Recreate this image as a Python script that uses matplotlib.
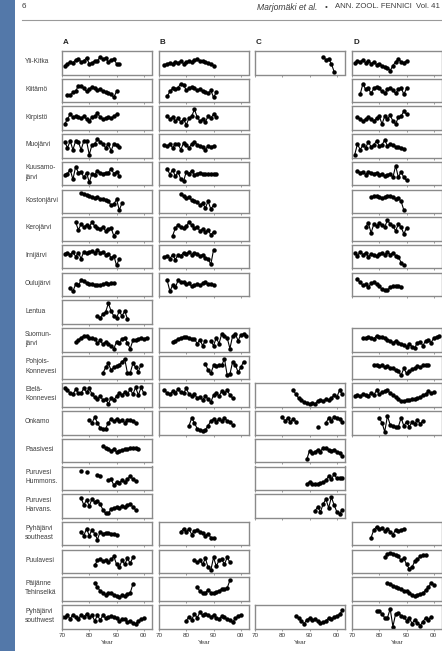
import numpy as np
import matplotlib.pyplot as plt
from matplotlib.patches import Rectangle
from matplotlib.lines import Line2D

plt.rcParams['font.family'] = ['Liberation Sans', 'DejaVu Sans']

nan = np.nan

# lake rows, top to bottom
lakes = ['Yli-Kitka', 'Kiitämö', 'Kirpistö', 'Muojärvi', 'Kuusamo-\njärvi',
         'Kostonjärvi', 'Kerojärvi', 'Irnijärvi', 'Oulujärvi', 'Lentua',
         'Suomun-\njärvi', 'Pohjois-\nKonnevesi', 'Etelä-\nKonnevesi', 'Onkamo',
         'Paasivesi', 'Puruvesi\nHummons.', 'Puruvesi\nHarvans.',
         'Pyhäjärvi\nsoutheast', 'Puulavesi', 'Päijänne\nTehinselkä',
         'Pyhäjärvi\nsouthwest']

col_names = ['A', 'B', 'C', 'D']

# (first year, yearly relative values)
col_A = {
    'Yli-Kitka': (71, [0.35,0.45,0.55,0.5,0.65,0.7,0.55,0.6,0.75,0.45,0.5,0.6,0.6,0.8,0.7,0.75,0.55,0.65,0.7,0.45,0.45]),
    'Kiitämö': (72, [0.25,0.25,0.4,0.45,0.75,0.75,0.6,0.45,0.55,0.7,0.6,0.5,0.55,0.45,0.4,0.35,0.3,0.15,0.45]),
    'Kirpistö': (71, [0.2,0.45,0.7,0.55,0.6,0.55,0.5,0.6,0.45,0.35,0.55,0.6,0.75,0.55,0.45,0.5,0.55,0.5,0.6,0.7]),
    'Muojärvi': (71, [0.7,0.4,0.75,0.3,0.75,0.7,0.3,0.75,0.75,0.05,0.55,0.6,0.85,0.7,0.6,0.4,0.6,0.25,0.6,0.55,0.45]),
    'Kuusamo-\njärvi': (71, [0.45,0.5,0.7,0.2,0.85,0.55,0.6,0.3,0.55,0.05,0.5,0.45,0.65,0.55,0.5,0.55,0.55,0.75,0.5,0.6,0.4]),
    'Kostonjärvi': (77, [0.9,0.85,0.8,0.75,0.7,0.65,0.7,0.6,0.6,0.55,0.5,0.3,0.35,0.6,0.05,0.4]),
    'Kerojärvi': (75, [0.85,0.45,0.75,0.6,0.7,0.6,0.85,0.65,0.55,0.5,0.6,0.4,0.5,0.55,0.15,0.35]),
    'Irnijärvi': (71, [0.65,0.7,0.6,0.75,0.5,0.7,0.4,0.75,0.7,0.75,0.8,0.7,0.85,0.7,0.75,0.6,0.65,0.45,0.55,0.05,0.4]),
    'Oulujärvi': (73, [0.3,0.15,0.5,0.45,0.7,0.65,0.55,0.5,0.5,0.45,0.45,0.45,0.5,0.55,0.5,0.55,0.55]),
    'Lentua': (83, [0.3,0.2,0.4,0.5,0.95,0.55,0.3,0.2,0.55,0.3,0.55,0.15]),
    'Suomun-\njärvi': (75, [0.4,0.47,0.61,0.69,0.71,0.61,0.61,0.54,0.33,0.47,0.26,0.4,0.26,0.19,0.04,0.4,0.33,0.54,0.61,0.33,0.04,0.47,0.47,0.54,0.61,0.54,0.61]),
    'Pohjois-\nKonnevesi': (85, [0.21,0.5,0.71,0.36,0.5,0.57,0.64,0.79,0.93,0.21,0.21,0.71,0.5,0.29,0.64]),
    'Etelä-\nKonnevesi': (71, [0.85,0.75,0.6,0.55,0.8,0.6,0.6,0.85,0.65,0.85,0.55,0.4,0.3,0.45,0.25,0.3,0.05,0.35,0.25,0.45,0.6,0.5,0.65,0.55,0.8,0.55,0.9,0.5,0.9,0.6]),
    'Onkamo': (80, [0.64,0.5,0.79,0.5,0.24,0.21,0.21,0.5,0.71,0.57,0.71,0.57,0.67,0.5,0.67,0.64,0.57,0.5]),
    'Paasivesi': (85, [0.71,0.64,0.6,0.5,0.57,0.43,0.5,0.53,0.57,0.6,0.61,0.61,0.61,0.57]),
    'Puruvesi\nHummons.': (77, [0.85,nan,0.8,nan,nan,nan,0.67,0.64,nan,nan,0.4,0.45,0.15,0.3,0.25,0.4,0.3,0.45,0.6,0.45,0.35]),
    'Puruvesi\nHarvans.': (77, [0.9,0.55,0.8,0.5,0.85,0.7,0.75,0.6,0.3,0.12,0.12,0.35,0.4,0.45,0.4,0.5,0.45,0.55,0.6,0.45,0.3]),
    'Pyhäjärvi\nsoutheast': (77, [0.6,0.4,0.75,0.4,0.7,0.5,0.2,0.6,0.5,0.55,0.55,0.5,0.5,0.45]),
    'Puulavesi': (82, [0.3,0.55,0.6,0.5,0.55,0.45,0.6,0.75,0.35,0.2,0.55,0.35,0.65,0.4,0.7]),
    'Päijänne\nTehinselkä': (82, [0.8,0.6,0.4,0.3,0.22,0.3,0.28,0.22,0.15,0.08,0.18,0.15,0.25,0.3,0.75]),
    'Pyhäjärvi\nsouthwest': (70, [0.5,0.47,0.57,0.39,0.61,0.5,0.39,0.57,0.5,0.64,0.47,0.57,0.29,0.57,0.33,0.57,0.43,0.47,0.53,0.47,0.43,0.29,0.36,0.39,0.21,0.29,0.17,0.14,0.29,0.36,0.43]),
}

col_B = {
    'Yli-Kitka': (72, [0.4,0.45,0.5,0.45,0.55,0.5,0.6,0.45,0.55,0.6,0.55,0.65,0.7,0.6,0.6,0.55,0.5,0.45,0.35]),
    'Kiitämö': (73, [0.2,0.45,0.6,0.55,0.65,0.85,0.8,0.5,0.6,0.7,0.6,0.5,0.55,0.45,0.4,0.35,0.5,0.15,0.4]),
    'Kirpistö': (73, [0.6,0.45,0.55,0.35,0.5,0.3,0.45,0.15,0.5,0.6,0.95,0.55,0.35,0.45,0.3,0.6,0.5,0.7,0.55]),
    'Muojärvi': (72, [0.55,0.5,0.6,0.4,0.6,0.6,0.3,0.65,0.55,0.4,0.6,0.7,0.55,0.5,0.45,0.3,0.5,0.45,0.5]),
    'Kuusamo-\njärvi': (73, [0.75,0.45,0.7,0.35,0.6,0.2,0.1,0.6,0.5,0.65,0.45,0.5,0.55,0.5,0.5,0.5,0.5,0.5,0.5]),
    'Kostonjärvi': (78, [0.85,0.75,0.65,0.7,0.55,0.5,0.45,0.3,0.4,0.15,0.5,0.1,0.3]),
    'Kerojärvi': (75, [0.15,0.55,0.7,0.6,0.55,0.65,0.85,0.7,0.55,0.6,0.4,0.5,0.35,0.45,0.2,0.35]),
    'Irnijärvi': (72, [0.5,0.55,0.4,0.6,0.35,0.6,0.55,0.7,0.65,0.75,0.6,0.7,0.65,0.55,0.6,0.45,0.4,0.1,0.85]),
    'Oulujärvi': (73, [0.7,0.15,0.45,0.35,0.7,0.6,0.6,0.5,0.55,0.4,0.45,0.5,0.45,0.55,0.6,0.5,0.5,0.45]),
    'Suomun-\njärvi': (75, [0.4,0.45,0.55,0.6,0.65,0.65,0.6,0.55,0.55,0.3,0.5,0.2,0.45,nan,0.45,0.2,0.6,0.3,0.8,0.7,0.6,0.05,0.7,0.8,0.45,0.75,0.8,0.7]),
    'Pohjois-\nKonnevesi': (87, [0.7,0.35,0.2,0.6,0.55,0.65,0.6,0.95,0.1,0.15,0.8,0.65,0.25,0.5,0.8]),
    'Etelä-\nKonnevesi': (72, [0.75,0.6,0.55,0.7,0.6,0.8,0.65,0.6,0.85,0.55,0.45,0.55,0.35,0.4,0.25,0.45,0.3,0.15,0.5,0.6,0.45,0.7,0.6,0.75,0.5,0.35]),
    'Onkamo': (81, [0.35,0.75,0.5,0.2,0.15,0.1,0.15,0.35,0.6,0.7,0.55,0.7,0.6,0.75,0.6,0.55,0.4]),
    'Pyhäjärvi\nsoutheast': (78, [0.6,0.75,0.6,0.75,0.45,0.65,0.7,0.6,0.55,0.4,0.5,0.3,0.3]),
    'Puulavesi': (83, [0.55,0.45,0.55,0.35,0.65,0.2,0.05,0.7,0.25,0.55,0.6,0.35,0.7,0.45]),
    'Päijänne\nTehinselkä': (84, [0.6,0.38,0.28,0.32,0.45,0.32,0.28,0.36,0.42,0.48,0.5,0.55,0.95]),
    'Pyhäjärvi\nsouthwest': (80, [0.3,0.5,0.35,0.65,0.45,0.72,0.58,0.65,0.58,0.5,0.58,0.45,0.38,0.52,0.47,0.36,0.33,0.21,0.43,0.52,0.6]),
}

col_C = {
    'Yli-Kitka': (95, [0.8,0.65,0.7,0.45,0.05]),
    'Etelä-\nKonnevesi': (84, [0.75,0.55,0.35,0.25,0.15,0.1,0.05,0.1,0.05,0.2,0.25,0.2,0.3,0.25,0.35,0.5,0.4,0.75,0.55]),
    'Onkamo': (80, [0.8,0.6,0.75,0.55,0.7,0.55,nan,nan,nan,nan,nan,nan,nan,0.3,nan,nan,0.5,0.75,0.6,0.8,0.75,0.7,0.55]),
    'Paasivesi': (89, [0.05,0.5,0.35,0.45,0.55,0.45,0.65,0.65,0.55,0.5,0.55,0.45,0.4,0.2]),
    'Puruvesi\nHummons.': (89, [0.2,0.32,0.22,0.2,0.22,0.25,0.3,0.4,0.6,0.45,0.7,0.5,0.5,0.5]),
    'Puruvesi\nHarvans.': (92, [0.25,0.45,0.2,0.6,0.85,0.4,0.95,0.55,0.2,0.1,0.3]),
    'Pyhäjärvi\nsouthwest': (85, [0.53,0.43,0.3,0.14,0.35,0.43,0.33,0.39,0.28,0.19,0.21,0.3,0.43,0.36,0.5,0.55,0.62,0.82]),
}

col_D = {
    'Yli-Kitka': (71, [0.5,0.6,0.55,0.65,0.5,0.6,0.45,0.55,0.4,0.45,0.35,0.3,0.25,0.1,0.35,0.55,0.7,0.55,0.5,0.6]),
    'Kiitämö': (73, [0.3,0.85,0.55,0.6,0.35,0.6,0.7,0.6,0.45,0.35,0.55,0.65,0.5,0.35,0.55,0.65,0.3,0.6]),
    'Kirpistö': (72, [0.55,0.45,0.35,0.45,0.55,0.45,0.35,0.5,0.6,0.2,0.6,0.45,0.65,0.35,0.2,0.55,0.6,0.85,0.7]),
    'Muojärvi': (71, [0.05,0.6,0.3,0.55,0.4,0.7,0.45,0.55,0.75,0.5,0.55,0.8,0.5,0.6,0.55,0.45,0.45,0.4,0.35]),
    'Kuusamo-\njärvi': (72, [0.65,0.55,0.6,0.45,0.6,0.55,0.5,0.55,0.45,0.5,0.35,0.45,0.5,0.3,0.9,0.3,0.6,0.3,0.15]),
    'Kostonjärvi': (77, [0.7,0.75,0.75,0.7,0.65,0.7,0.75,0.75,0.7,0.6,0.65,0.5,0.05]),
    'Kerojärvi': (75, [0.6,0.8,0.3,0.75,0.65,0.8,0.7,0.6,0.95,0.75,0.65,0.4,0.75,0.6,0.25,0.55]),
    'Irnijärvi': (71, [0.7,0.55,0.75,0.6,0.7,0.5,0.65,0.6,0.55,0.65,0.7,0.6,0.75,0.6,0.7,0.55,0.5,0.2,0.05]),
    'Oulujärvi': (72, [0.75,0.6,0.45,0.5,0.35,0.55,0.6,0.5,0.4,0.25,0.2,0.2,0.35,0.4,0.4,0.4,0.35]),
    'Suomun-\njärvi': (74, [0.6,0.6,0.65,0.6,0.55,0.7,0.65,0.65,0.6,0.5,0.45,0.35,0.45,0.35,0.3,0.25,0.15,0.3,0.15,0.1,0.35,0.4,0.2,0.45,0.5,0.35,0.6,0.65,0.7]),
    'Pohjois-\nKonnevesi': (78, [0.65,0.6,0.55,0.6,0.5,0.55,0.45,0.45,0.35,0.3,0.1,0.45,0.2,0.3,0.4,0.45,0.55,0.5,0.6,0.65,0.65]),
    'Etelä-\nKonnevesi': (71, [0.45,0.5,0.45,0.55,0.5,0.45,0.6,0.5,0.75,0.55,0.65,0.7,0.75,0.6,0.5,0.4,0.3,0.2,0.2,0.25,0.25,0.3,0.3,0.35,0.4,0.5,0.55,0.7,0.6,0.65]),
    'Onkamo': (80, [0.75,0.5,0.05,0.85,0.4,0.35,0.3,0.3,0.75,0.35,0.55,0.3,0.55,0.45,0.65,0.45,0.6]),
    'Pyhäjärvi\nsoutheast': (77, [0.3,0.7,0.85,0.75,0.8,0.65,0.75,0.6,0.45,0.7,0.65,0.7,0.75]),
    'Puulavesi': (82, [0.7,0.85,0.95,0.9,0.8,0.75,0.55,0.65,0.35,0.12,0.2,0.5,0.6,0.75,0.8,0.8]),
    'Päijänne\nTehinselkä': (83, [0.8,0.75,0.68,0.6,0.55,0.5,0.42,0.4,0.3,0.2,0.15,0.22,0.25,0.3,0.45,0.6,0.8,0.72]),
    'Pyhäjärvi\nsouthwest': (79, [0.8,0.78,0.65,0.45,0.45,0.9,0.0,0.65,0.7,0.55,0.5,0.3,0.45,0.15,0.35,0.2,0.05,0.25,0.45,0.35,0.5]),
}

columns = [col_A, col_B, col_C, col_D]
year_ticks = [70, 80, 90, 100]
year_ticklabels = ['70', '80', '90', '00']

# page geometry in pixels
W, H = 442, 651
col_left = [62, 159, 255, 352]
panel_w = 90
row_top0 = 51
row_step = 27.7
panel_h = 23.5
frame_col = '#8a8a8a'
text_col = '#3c3c3c'

fig = plt.figure(figsize=(W / 100, H / 100), dpi=100)
fig.patch.set_facecolor('white')

# blue margin strip
fig.patches.append(Rectangle((0, 0), 15 / W, 1, transform=fig.transFigure,
                             facecolor='#5378a9', edgecolor='none', zorder=0))

# running header
hy = 1 - 7 / H
fig.text(22 / W, hy, '6', fontsize=5.8, color=text_col, va='center', ha='left')
fig.text(317 / W, hy, 'Marjomäki et al.', fontsize=6.2, color=text_col,
         va='center', ha='right', style='italic')
fig.text(326 / W, hy, '•', fontsize=5.8, color=text_col, va='center', ha='center')
fig.text(440 / W, hy, 'ANN. ZOOL. FENNICI  Vol. 41', fontsize=5.6,
         color=text_col, va='center', ha='right')
fig.add_artist(Line2D([22 / W, 1], [1 - 20 / H, 1 - 20 / H], color='#9a9a9a', lw=0.8))

# column letters
for c, name in enumerate(col_names):
    fig.text((col_left[c] + 1) / W, 1 - 42 / H, name, fontsize=5.8,
             fontweight='bold', color='#222222', va='center', ha='left')

n_rows = len(lakes)
for r, lake in enumerate(lakes):
    top = row_top0 + r * row_step
    fig.text(25 / W, 1 - (top + panel_h / 2 - 1) / H, lake, fontsize=4.8,
             color=text_col, va='center', ha='left', linespacing=1.45)
    for c, col in enumerate(columns):
        if lake not in col:
            continue
        start, vals = col[lake]
        years = np.arange(start, start + len(vals))
        ax = fig.add_axes([col_left[c] / W, 1 - (top + panel_h) / H,
                           panel_w / W, panel_h / H])
        ax.plot(years, vals, color='black', lw=0.8, marker='o', ms=2.2,
                mec='black', mfc='black')
        ax.set_xlim(70, 103)
        ax.set_ylim(-0.1, 1.1)
        ax.set_yticks([])
        ax.set_xticks(year_ticks)
        ax.tick_params(axis='x', direction='out', length=1.5, width=0.6,
                       colors=frame_col, labelsize=4.6, labelcolor=text_col, pad=2)
        for s in ax.spines.values():
            s.set_color(frame_col)
            s.set_linewidth(1.0)
        if r == n_rows - 1:
            ax.set_xticklabels(year_ticklabels)
            ax.set_xlabel('Year', fontsize=4.6, color=text_col, labelpad=1.5)
        else:
            ax.set_xticklabels([])

fig.savefig('out.png', dpi=100)
